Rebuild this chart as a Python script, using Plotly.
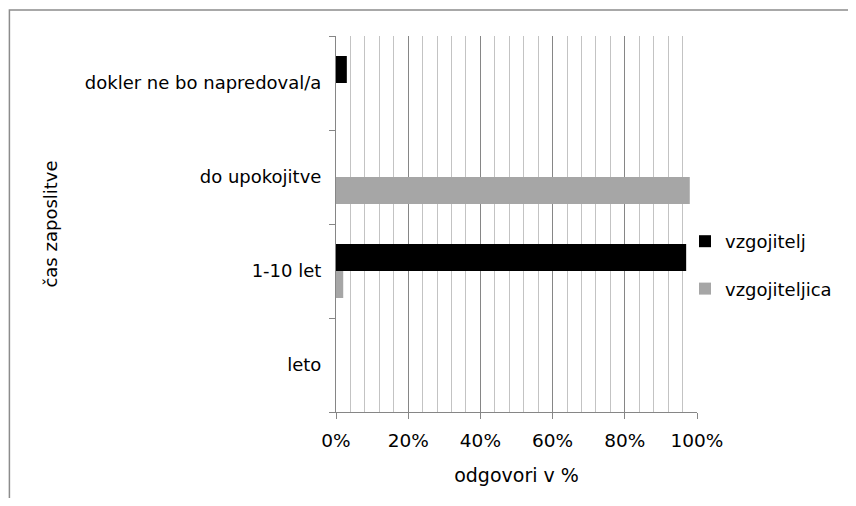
import plotly.graph_objects as go

categories = ["leto", "1-10 let", "do upokojitve", "dokler ne bo napredoval/a"]
vzgojitelj = [0.0, 0.97, 0.0, 0.03]
vzgojiteljica = [0.0, 0.02, 0.98, 0.0]
x_ticks = [0, 0.2, 0.4, 0.6, 0.8, 1.0]
x_ticklabels = ["0%", "20%", "40%", "60%", "80%", "100%"]

FONT = "DejaVu Sans"
AX = "#868686"

fig = go.Figure()
fig.add_trace(go.Bar(y=categories, x=vzgojiteljica, orientation="h", name="vzgojiteljica",
                     marker=dict(color="#a6a6a6", line=dict(width=0)),
                     legendgroup="b", legendrank=2))
fig.add_trace(go.Bar(y=categories, x=vzgojitelj, orientation="h", name="vzgojitelj",
                     marker=dict(color="#000000", line=dict(width=0)),
                     legendgroup="a", legendrank=1))

OFF = 8  # page body margin
W, H = 840, 490
L, T = 336 - OFF, 36 - OFF
pw, ph = 362, 376
R = W - L - pw
B = H - T - ph


def px(x):  # page x -> paper
    return (x - OFF - L) / pw


def py(y):  # page y -> paper
    return (H - B - (y - OFF)) / ph


fig.update_layout(
    width=W, height=H,
    margin=dict(l=L, r=R, t=T, b=B),
    paper_bgcolor="white", plot_bgcolor="white",
    barmode="group", bargap=0.425, bargroupgap=0,
    font=dict(family=FONT, size=18, color="#000000"),
    legend=dict(traceorder="grouped", tracegroupgap=21,
                x=px(685), y=py(223), xanchor="left", yanchor="top",
                font=dict(size=18), itemwidth=30, bgcolor="rgba(0,0,0,0)"),
    xaxis=dict(range=[0, 1], tickvals=x_ticks, ticktext=x_ticklabels,
               tickfont=dict(size=18.5),
               showgrid=True, gridcolor=AX, gridwidth=1,
               minor=dict(dtick=0.04, tick0=0, showgrid=True, gridcolor="#c3c3c3", gridwidth=1),
               showline=True, linecolor=AX, linewidth=1,
               ticks="outside", ticklen=6, tickcolor=AX,
               ticklabelstandoff=6,
               zeroline=False, fixedrange=True,
               title=dict(text="odgovori v %", font=dict(size=19), standoff=18)),
    yaxis=dict(type="category", categoryorder="array", categoryarray=categories,
               showline=True, linecolor=AX, linewidth=1,
               ticks="outside", ticklen=6, tickcolor=AX, tickson="boundaries",
               showgrid=False, zeroline=False,
               ticklabelstandoff=10,
               title=dict(text="čas zaposlitve", font=dict(size=18), standoff=22)),
    shapes=[dict(type="rect", xref="paper", yref="paper",
                 x0=px(8.5), x1=px(900), y0=py(560), y1=py(10),
                 line=dict(color="#8c8c8c", width=1.5), fillcolor="rgba(0,0,0,0)", layer="below")],
)

fig.write_html("out.html")
